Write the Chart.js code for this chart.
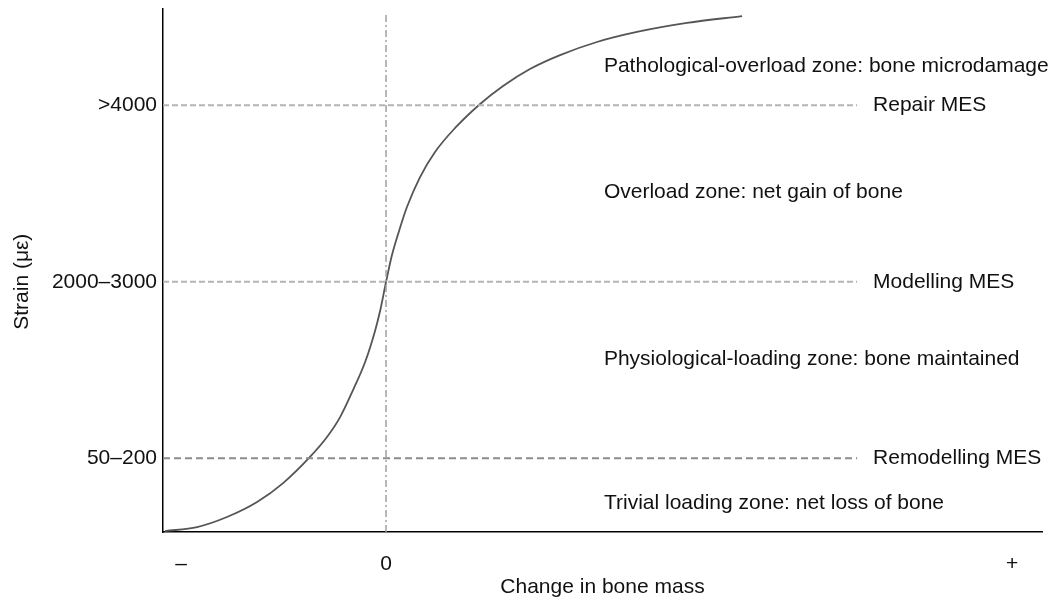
<!DOCTYPE html>
<html>
<head>
<meta charset="utf-8">
<script src="https://cdn.jsdelivr.net/npm/chart.js@4.4.1/dist/chart.umd.min.js"></script>
<style>
  html, body { margin: 0; padding: 0; background: #fff; }
  canvas { display: block; }
</style>
</head>
<body>
<canvas id="c" width="1055" height="600"></canvas>
<script>
// ---- data ----
const xTickValues = [-1, 0, 3.054];
const xTickLabels = ['\u2013', '0', '+'];
const yTickValues = [1, 2, 3];
const yTickLabels = ['50\u2013200', '2000\u20133000', '>4000'];
const mesValues = [1, 2, 3];
const mesLabels = ['Remodelling MES', 'Modelling MES', 'Repair MES'];
const zoneLabels = [
  'Trivial loading zone: net loss of bone',
  'Physiological-loading zone: bone maintained',
  'Overload zone: net gain of bone',
  'Pathological-overload zone: bone microdamage'
];
const zoneLevels = [0.746, 1.562, 2.508, 3.222];
const curveX = [-1.078, -0.922, -0.776, -0.629, -0.502, -0.371, -0.288, -0.224, -0.161, -0.102,
  -0.054, -0.029, 0.000, 0.029, 0.068, 0.102, 0.166, 0.239, 0.337, 0.459,
  0.571, 0.702, 0.849, 1.029, 1.224, 1.468, 1.737];
const curveY = [0.587, 0.610, 0.667, 0.752, 0.859, 1.007, 1.120, 1.233, 1.386, 1.545,
  1.720, 1.834, 1.998, 2.151, 2.304, 2.423, 2.593, 2.735, 2.871, 3.007,
  3.109, 3.205, 3.284, 3.358, 3.415, 3.466, 3.505];
const xTitle = 'Change in bone mass';
const yTitle = 'Strain (\u03bc\u03b5)';

// ---- scale extents / layout ----
const X_MIN = -1.088, X_MAX = 3.2;
const Y_MIN = 0.582, Y_MAX = 3.545;
const MES_END = 2.298, MES_LABEL_X = 2.376, ZONE_LABEL_X = 1.063;
const ZERO_TOP = 3.522;
const Y_TITLE_LEVEL = 2.0;
const FONT = '"Liberation Sans", Arial, Helvetica, sans-serif';

const curve = curveX.map((x, i) => ({ x, y: curveY[i] }));
const mesColors = ['#8c8c8c', '#b4b4b4', '#b4b4b4'];
const mesDash = [[7, 4], [6, 3], [6, 3]];

const datasets = mesValues.map((v, i) => ({
  data: [{ x: X_MIN, y: v }, { x: MES_END, y: v }],
  borderColor: mesColors[i], borderWidth: 2, borderDash: mesDash[i],
  pointRadius: 0, showLine: true, fill: false
}));
datasets.push({
  data: [{ x: 0, y: Y_MIN }, { x: 0, y: ZERO_TOP }],
  borderColor: '#a0a0a0', borderWidth: 1.5, borderDash: [7, 3, 2, 3],
  pointRadius: 0, showLine: true, fill: false
});
datasets.push({
  data: curve,
  borderColor: '#555555', borderWidth: 1.8,
  cubicInterpolationMode: 'monotone',
  pointRadius: 0, showLine: true, fill: false
});

const textPlugin = {
  id: 'texts',
  afterDatasetsDraw(chart) {
    const { ctx, scales: { x, y } } = chart;
    ctx.save();
    ctx.fillStyle = '#111';
    ctx.font = '21px ' + FONT;
    ctx.textAlign = 'left';
    ctx.textBaseline = 'middle';
    mesLabels.forEach((t, i) => ctx.fillText(t, x.getPixelForValue(MES_LABEL_X), y.getPixelForValue(mesValues[i])));
    zoneLabels.forEach((t, i) => ctx.fillText(t, x.getPixelForValue(ZONE_LABEL_X), y.getPixelForValue(zoneLevels[i])));
    // y axis title
    ctx.translate(22, y.getPixelForValue(Y_TITLE_LEVEL));
    ctx.rotate(-Math.PI / 2);
    ctx.textAlign = 'center';
    ctx.fillText(yTitle, 0, 0);
    ctx.restore();
  }
};

new Chart(document.getElementById('c'), {
  type: 'scatter',
  data: { datasets },
  options: {
    responsive: false,
    animation: false,
    devicePixelRatio: 1,
    layout: { padding: { left: 0, top: 9, right: 13, bottom: 0 } },
    plugins: { legend: { display: false }, tooltip: { enabled: false } },
    scales: {
      x: {
        type: 'linear', min: X_MIN, max: X_MAX,
        afterFit(s) { s.height = 68; s.paddingLeft = 0; s.paddingRight = 0; },
        afterBuildTicks(s) { s.ticks = xTickValues.map(v => ({ value: v })); },
        grid: { display: false, drawTicks: false },
        border: { display: true, color: '#000', width: 1.5 },
        ticks: {
          padding: 20, color: '#111', maxRotation: 0, autoSkip: false,
          font: { family: FONT, size: 21 },
          callback: (v, i) => xTickLabels[i]
        },
        title: {
          display: true, text: xTitle, color: '#111',
          font: { family: FONT, size: 21 }, padding: { top: 0, bottom: 0 }
        }
      },
      y: {
        type: 'linear', min: Y_MIN, max: Y_MAX,
        afterFit(s) { s.width = 163; s.paddingTop = 0; s.paddingBottom = 0; },
        afterBuildTicks(s) { s.ticks = yTickValues.map(v => ({ value: v })); },
        grid: { display: false, drawTicks: false },
        border: { display: true, color: '#000', width: 1.5 },
        ticks: {
          padding: 6, color: '#111', autoSkip: false,
          font: { family: FONT, size: 21 },
          callback: (v, i) => yTickLabels[i]
        },
        title: { display: false }
      }
    }
  },
  plugins: [textPlugin]
});
</script>
</body>
</html>
